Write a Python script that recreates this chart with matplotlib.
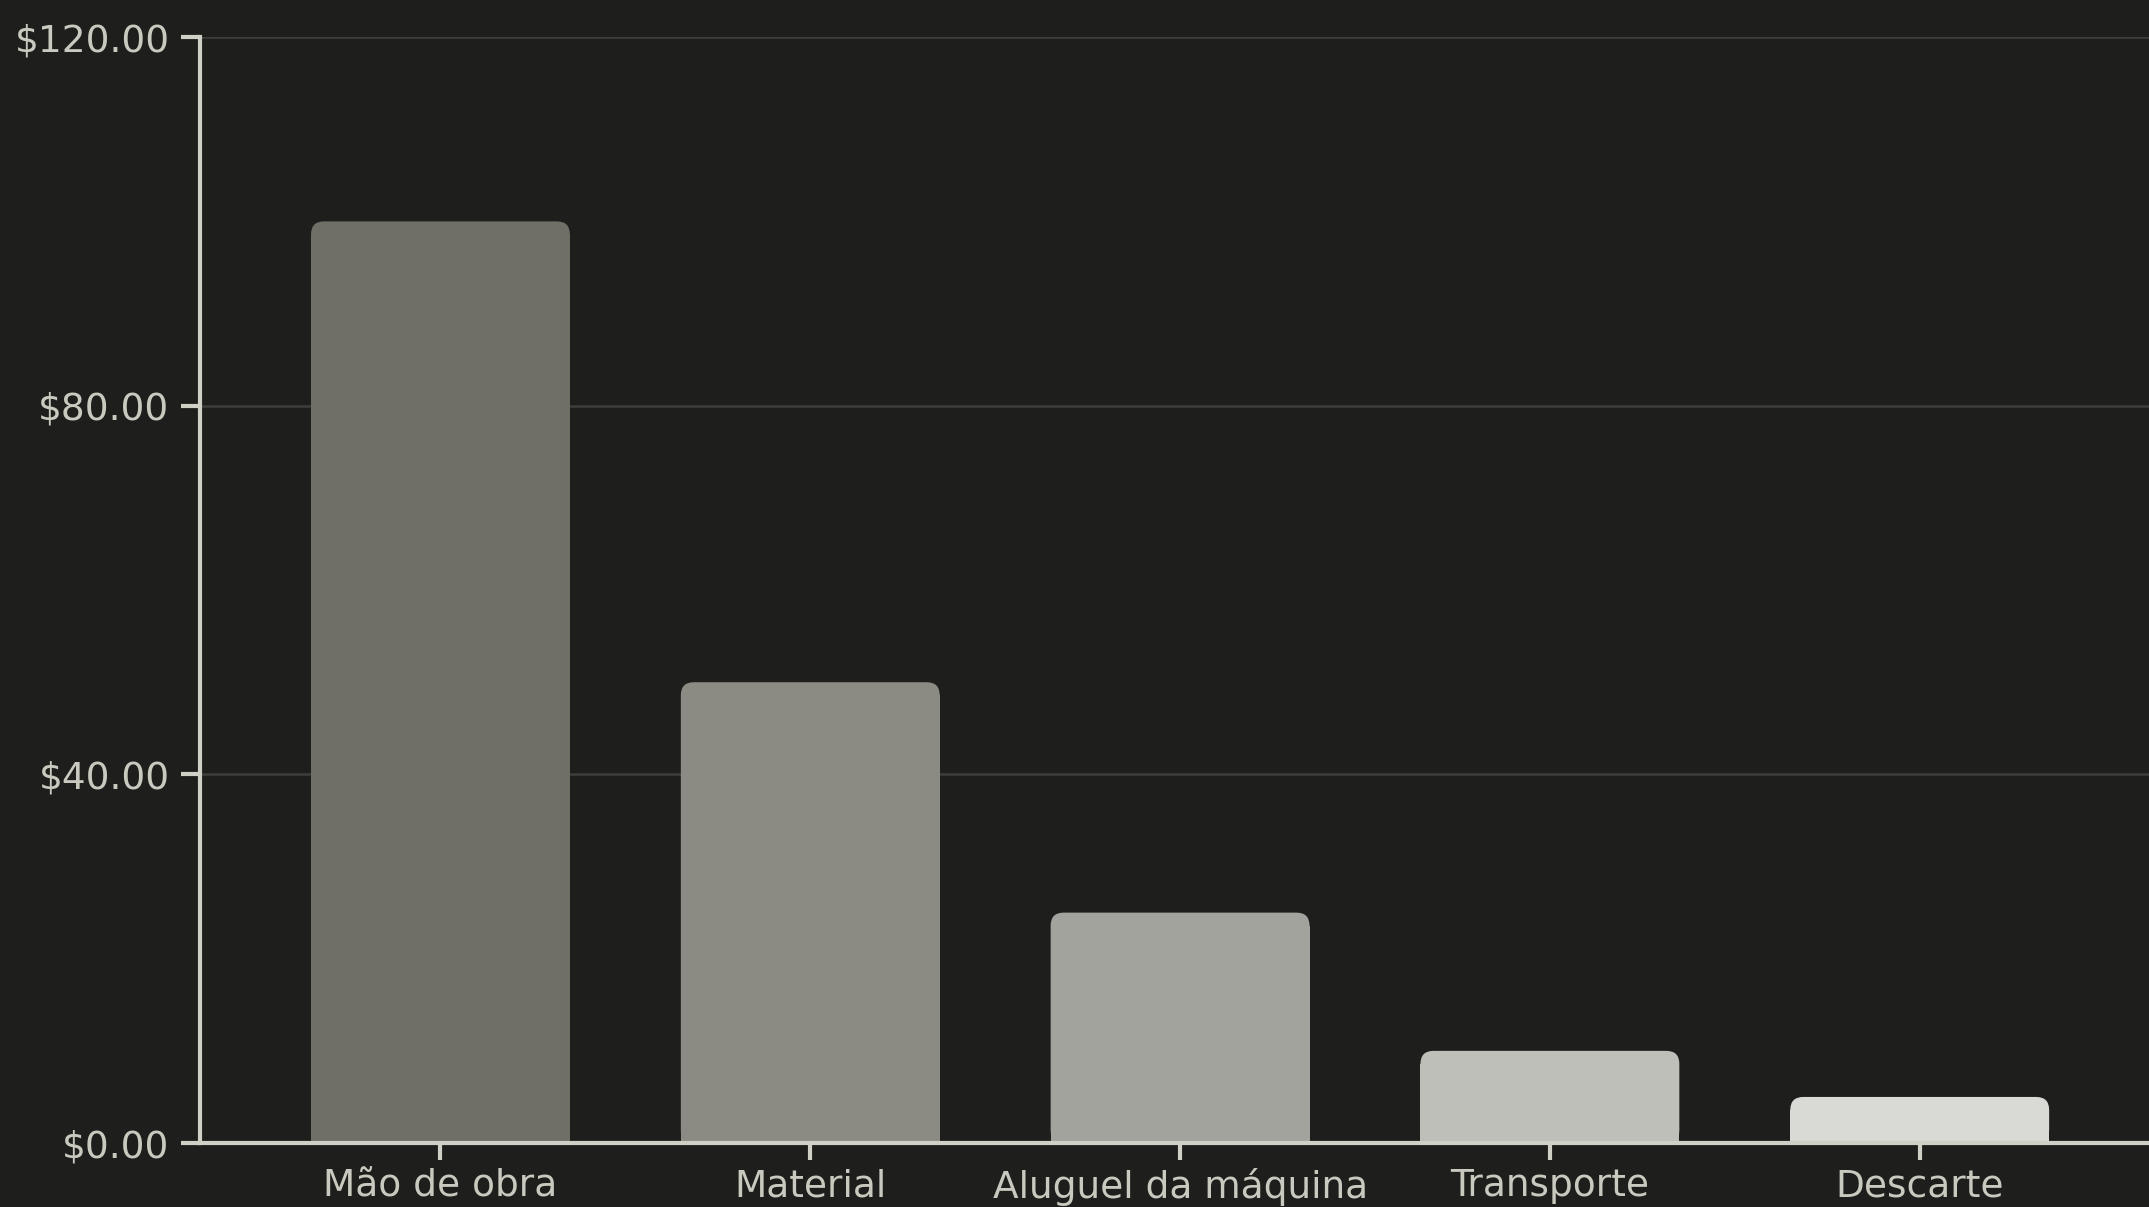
import matplotlib.pyplot as plt
from matplotlib.patches import FancyBboxPatch, Rectangle
from matplotlib.ticker import FuncFormatter

categorias = ["Mão de obra", "Material", "Aluguel da máquina", "Transporte", "Descarte"]
custos = [100, 50, 25, 10, 5]
cores = ["#6f6f66", "#8b8b83", "#a3a39e", "#bfbfba", "#d9dad5"]
y_ticks = [0, 40, 80, 120]

fundo = "#1e1e1c"
texto = "#c9c9bf"
eixo = "#d0d0c6"

plt.rcParams["font.family"] = ["DejaVu Sans"]

fig = plt.figure(figsize=(21.49, 12.07), dpi=100, facecolor=fundo)
ax = fig.add_axes([0.0931, 0.053, 0.9069, 0.9163], facecolor=fundo)

ax.set_xlim(-0.65, 4.62)
ax.set_ylim(0, 120)

# escala de pixels para arredondar só os cantos de cima
fig.canvas.draw()
bbox = ax.get_window_extent()
px_x = (4.62 + 0.65) / bbox.width
px_y = 120 / bbox.height
raio = 13 * px_x
largura = 0.7

for i, (v, c) in enumerate(zip(custos, cores)):
    x0 = i - largura / 2
    ax.add_patch(FancyBboxPatch((x0, 0), largura, v,
                                boxstyle=f"round,pad=0,rounding_size={raio}",
                                mutation_aspect=px_y / px_x,
                                facecolor=c, edgecolor="none", zorder=3))
    ax.add_patch(Rectangle((x0, 0), largura, v - 13 * px_y,
                           facecolor=c, edgecolor="none", zorder=3))

ax.set_xticks(range(len(categorias)))
ax.set_xticklabels(categorias)
ax.set_yticks(y_ticks)
ax.yaxis.set_major_formatter(FuncFormatter(lambda v, p: f"${v:.2f}"))

ax.grid(axis="y", color="#3d3d3b", linewidth=1.8, zorder=0)
ax.set_axisbelow(True)

for s in ["top", "right"]:
    ax.spines[s].set_visible(False)
for s in ["left", "bottom"]:
    ax.spines[s].set_color(eixo)
    ax.spines[s].set_linewidth(3)
    ax.spines[s].set_zorder(4)

ax.tick_params(axis="y", length=14, width=3, color=eixo, pad=8,
               labelsize=27, labelcolor=texto)
ax.tick_params(axis="x", length=12, width=3, color=eixo, pad=6,
               labelsize=27, labelcolor=texto)

fig.savefig("out.png", dpi=100, facecolor=fundo)
